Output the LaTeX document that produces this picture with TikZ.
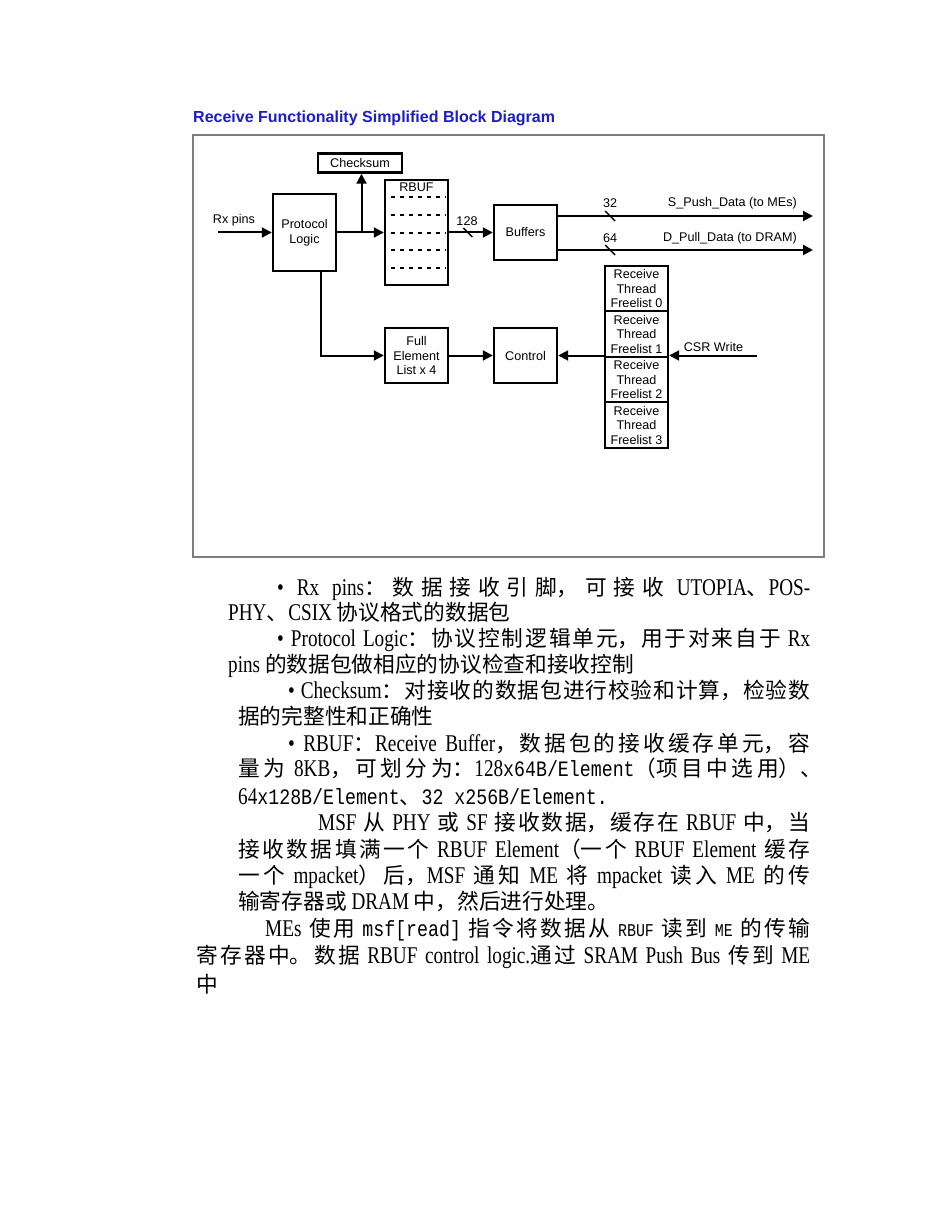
\documentclass[tikz,border=0pt]{standalone}
\usepackage{fontspec}
\usetikzlibrary{arrows.meta,positioning}
\setmainfont{Liberation Serif}
\newfontfamily\bodyrm{Liberation Serif}[FakeStretch=0.8]
\newfontfamily\bodytt{Liberation Mono}[FakeStretch=0.83]
\newfontfamily\cjk{Noto Sans CJK SC}
\newfontfamily\diag{Liberation Sans}
\XeTeXlinebreaklocale "zh"
\XeTeXlinebreakskip=0pt plus 2pt minus 0.5pt
\definecolor{titleblue}{RGB}{28,28,200}
\definecolor{framegray}{RGB}{125,125,125}
\newcommand\diagfont{\diag\fontsize{12.6}{14.5}\selectfont}
\newcommand\bodyfont{\bodyrm\fontsize{24}{26}\selectfont}
\newcommand\zh[1]{{\cjk\fontsize{21.7}{26}\selectfont#1}}
\newcommand\mono[1]{\mbox{\bodytt\fontsize{22}{26}\selectfont#1}}
\newcommand\smono[1]{\mbox{\bodytt\fontsize{18}{26}\selectfont#1}}
% one justified line of the running text
\newcommand\jline[2]{\parbox[b]{#1pt}{\parindent=0pt\parfillskip=0pt\tolerance=10000\hbadness=10000\relax#2\par}}
\begin{document}
\begin{tikzpicture}[x=1pt, y=-1pt,
	blk/.style={draw, line width=2.4pt, inner sep=0pt, align=center, font=\diagfont, minimum width=63pt},
	lbl/.style={inner sep=0pt, font=\diagfont},
	conn/.style={line width=2pt, -{Triangle[length=10pt,width=10pt]}},
	tick/.style={line width=1.4pt},
	rowdots/.style={line width=2pt, dash pattern=on 3.5pt off 5.5pt},
	txt/.style={anchor=base west, inner sep=0pt, font=\bodyfont}]
	\fill[white] (0,0) rectangle (950,1230);
	\useasboundingbox (0,0) rectangle (950,1230);
	% title and frame
	\node[anchor=base west, inner sep=0pt, text=titleblue, font=\diag\bfseries\fontsize{16}{19}\selectfont] (title) at (193,122.5) {Receive Functionality Simplified Block Diagram};
	\draw[framegray, line width=1.2pt] (193,135) rectangle (824,557);
	% blocks
	\node[blk, minimum width=84pt, minimum height=19pt] (chk) at (360,163) {Checksum};
	\node[blk, minimum height=77pt] (plogic) at (304.5,232.5) {Protocol\\Logic};
	\node[blk, minimum height=105pt] (rbuf) at (416.5,232.5) {};
	\node[lbl, below=4pt of rbuf.north] (rbuflbl) {RBUF};
	\node[blk, minimum height=55pt] (buf) at (525.5,232.5) {Buffers};
	\node[blk, minimum height=55pt] (fel) at (416.5,355.5) {Full\\Element\\List x 4};
	\node[blk, minimum height=55pt] (ctrl) at (525.5,355.5) {Control};
	\foreach \i/\y in {0/288.5, 1/334, 2/379.5, 3/425}
		\node[blk, minimum height=45.5pt] (fl\i) at (636.5,\y) {Receive\\Thread\\Freelist \i};
	\foreach \y in {197,215,233,250,268}
		\draw[rowdots] (391,\y) -- (446,\y);
	% connectors
	\coordinate (rxin) at (218,232.5);
	\node[lbl] (rxlbl) at (234,220.5) {Rx pins};
	\draw[conn] (rxin) -- (plogic.west);
	\draw[conn] (plogic.east) -- (rbuf.west);
	\coordinate (tap) at (361.5,232.5);
	\draw[conn] (tap) -- (tap |- chk.south);
	\draw[conn] (rbuf.east) -- coordinate[pos=0.43] (w128) (buf.west);
	\draw[tick] (w128) ++(-4.5,-4.5) -- ++(9,9);
	\node[lbl] (l128) at (467,221) {128};
	\coordinate (spush) at (813,216);
	\coordinate (dpull) at (813,250);
	\draw[conn] (buf.east |- spush) -- coordinate[pos=0.204] (w32) (spush);
	\draw[conn] (buf.east |- dpull) -- coordinate[pos=0.204] (w64) (dpull);
	\draw[tick] (w32) ++(-5,-5) -- ++(10,10);
	\draw[tick] (w64) ++(-5,-5) -- ++(10,10);
	\node[lbl] (l32) at (610,203) {32};
	\node[lbl] (l64) at (610,238) {64};
	\node[lbl, anchor=east] (spushlbl) at (797,203) {S\_Push\_Data (to MEs)};
	\node[lbl, anchor=east] (dpulllbl) at (797,238) {D\_Pull\_Data (to DRAM)};
	\draw[conn] ([xshift=16.5pt]plogic.south) |- (fel.west);
	\draw[conn] (fel.east) -- (ctrl.west);
	\draw[conn] (ctrl.east -| fl1.west) -- (ctrl.east);
	\coordinate (csrin) at (757,355.5);
	\draw[conn] (csrin) -- (csrin -| fl1.east);
	\node[lbl] (csrlbl) at (713.5,347) {CSR Write};
	% running text
	\node[txt] (t1) at (277,595) {\jline{533}{• Rx pins\zh{：数据接收引脚，可接收} UTOPIA\zh{、}POS-}};
	\node[txt] (t2) at (228,620) {PHY\zh{、}CSIX \zh{协议格式的数据包}};
	\node[txt] (t3) at (277,646) {\jline{533}{• Protocol Logic\zh{：协议控制逻辑单元，用于对来自于} Rx}};
	\node[txt] (t4) at (228,672) {pins \zh{的数据包做相应的协议检查和接收控制}};
	\node[txt] (t5) at (288,698) {\jline{522}{• Checksum\zh{：对接收的数据包进行校验和计算，检验数}}};
	\node[txt] (t6) at (238,724) {\zh{据的完整性和正确性}};
	\node[txt] (t7) at (288,751) {\jline{522}{• RBUF\zh{：}Receive Buffer\zh{，数据包的接收缓存单元，容}}};
	\node[txt] (t8) at (238,776) {\jline{584}{\zh{量为} 8KB\zh{，可划分为：}128\mono{x64B/Element}\zh{（项目中选用）、}}};
	\node[txt] (t9) at (238,804) {64\mono{x128B/Element}\zh{、}\mono{32 x256B/Element.}};
	\node[txt] (t10) at (318,830) {\jline{492}{MSF \zh{从} PHY \zh{或} SF \zh{接收数据，缓存在} RBUF \zh{中，当}}};
	\node[txt] (t11) at (238,857) {\jline{572}{\zh{接收数据填满一个} RBUF Element\zh{（一个} RBUF Element \zh{缓存}}};
	\node[txt] (t12) at (238,883) {\jline{572}{\zh{一个} mpacket\zh{）后，}MSF \zh{通知} ME \zh{将} mpacket \zh{读入} ME \zh{的传}}};
	\node[txt] (t13) at (238,909) {\zh{输寄存器或} DRAM \zh{中，然后进行处理。}};
	\node[txt] (t14) at (265,936) {\jline{545}{MEs \zh{使用} \mono{msf[read]} \zh{指令将数据从} \smono{RBUF} \zh{读到} \smono{ME} \zh{的传输}}};
	\node[txt] (t15) at (196,963) {\jline{614}{\zh{寄存器中。数据} RBUF control logic.\zh{通过} SRAM Push Bus \zh{传到} ME}};
	\node[txt] (t16) at (196,992) {\zh{中}};
\end{tikzpicture}
\end{document}
